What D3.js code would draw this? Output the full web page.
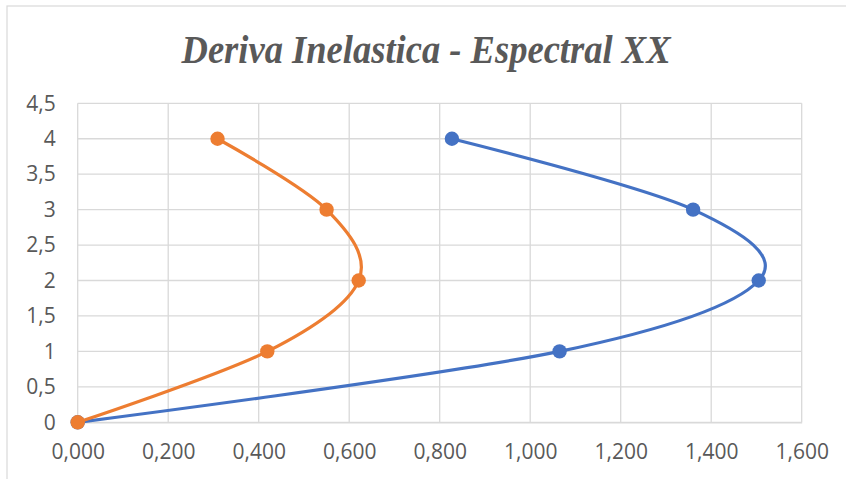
<!DOCTYPE html>
<html>
<head>
<meta charset="utf-8">
<script src="https://cdn.jsdelivr.net/npm/d3@7/dist/d3.min.js"></script>
<style>
  html, body { margin: 0; padding: 0; background: #fff; }
  svg { display: block; }
</style>
</head>
<body>
<script>
const title = "Deriva Inelastica - Espectral XX";
const levels = [0, 1, 2, 3, 4];
const seriesBlue = [0.000, 1.065, 1.505, 1.360, 0.827];
const seriesOrange = [0.000, 0.419, 0.621, 0.550, 0.309];
const xTicks = [0, 0.2, 0.4, 0.6, 0.8, 1.0, 1.2, 1.4, 1.6];
const xTickLabels = ["0,000", "0,200", "0,400", "0,600", "0,800", "1,000", "1,200", "1,400", "1,600"];
const yTicks = [0, 0.5, 1, 1.5, 2, 2.5, 3, 3.5, 4, 4.5];
const yTickLabels = ["0", "0,5", "1", "1,5", "2", "2,5", "3", "3,5", "4", "4,5"];

const W = 846, H = 479;
const svg = d3.select("body").append("svg").attr("width", W).attr("height", H);

// chart border
svg.append("rect").attr("x", 7).attr("y", 6).attr("width", 846).attr("height", 500)
  .attr("fill", "#fff").attr("stroke", "#D9D9D9").attr("stroke-width", 1.2);

const plot = { left: 77.7, right: 801.7, top: 103.3, bottom: 422.3 };
const x = d3.scaleLinear().domain([0, 1.6]).range([plot.left, plot.right]);
const y = d3.scaleLinear().domain([0, 4.5]).range([plot.bottom, plot.top]);

const grid = svg.append("g");
grid.selectAll("line.h").data(yTicks).join("line")
  .attr("x1", plot.left).attr("x2", plot.right)
  .attr("y1", d => y(d)).attr("y2", d => y(d))
  .attr("stroke", "#D9D9D9").attr("stroke-width", 1.3);
grid.selectAll("line.v").data(xTicks).join("line")
  .attr("y1", plot.top).attr("y2", plot.bottom)
  .attr("x1", d => x(d)).attr("x2", d => x(d))
  .attr("stroke", "#D9D9D9").attr("stroke-width", 1.3);

// axes with labels
const xAxis = d3.axisBottom(x).tickValues(xTicks).tickFormat((d, i) => xTickLabels[i]).tickSize(0).tickPadding(22);
const gx = svg.append("g").attr("transform", `translate(0,${plot.bottom})`).call(xAxis);
gx.select(".domain").attr("stroke", "#D9D9D9").attr("stroke-width", 1.3);
gx.selectAll("text").attr("fill", "#595959").style("font-family", "'Open Sans', sans-serif").style("font-size", "21px");

const yAxis = d3.axisLeft(y).tickValues(yTicks).tickFormat((d, i) => yTickLabels[i]).tickSize(0).tickPadding(22);
const gy = svg.append("g").attr("transform", `translate(${plot.left},0)`).call(yAxis);
gy.select(".domain").remove();
gy.selectAll("text").attr("fill", "#595959").style("font-family", "'Open Sans', sans-serif").style("font-size", "21px");

// title
svg.append("text").attr("x", 426).attr("y", 62.7).attr("text-anchor", "middle")
  .attr("fill", "#595959")
  .style("font-family", "'Liberation Serif', 'Times New Roman', serif")
  .style("font-weight", "bold").style("font-style", "italic").style("font-size", "40px")
  .attr("textLength", 489).attr("lengthAdjust", "spacingAndGlyphs")
  .text(title);

const line = d3.line().x(d => x(d[0])).y(d => y(d[1])).curve(d3.curveCardinal.tension(0));

function drawSeries(vals, color) {
  const pts = vals.map((v, i) => [v, levels[i]]);
  svg.append("path").datum(pts).attr("d", line)
    .attr("fill", "none").attr("stroke", color).attr("stroke-width", 3.2)
    .attr("stroke-linecap", "round");
  svg.append("g").selectAll("circle").data(pts).join("circle")
    .attr("cx", d => x(d[0])).attr("cy", d => y(d[1])).attr("r", 7.2)
    .attr("fill", color);
}
drawSeries(seriesBlue, "#4472C4");
drawSeries(seriesOrange, "#ED7D31");
</script>
</body>
</html>
